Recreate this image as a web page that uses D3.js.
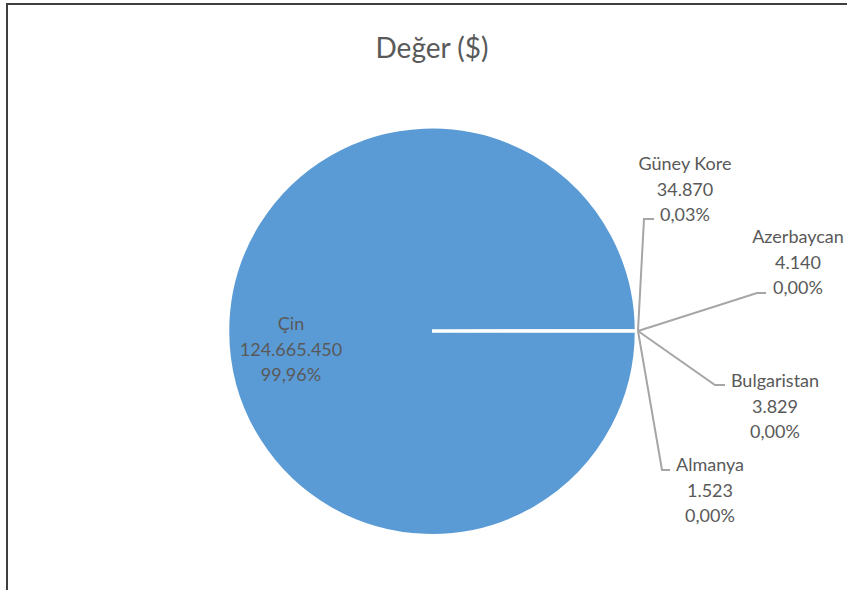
<!DOCTYPE html>
<html>
<head>
<meta charset="utf-8">
<script src="https://cdn.jsdelivr.net/npm/d3@7"></script>
<style>
  body { margin: 0; background: #fff; }
  text { font-family: Lato, "Open Sans", sans-serif; fill: #595959; }
</style>
</head>
<body>
<script>
! function () {
  // veriler
  let countries = ['Çin', 'Güney Kore', 'Azerbaycan', 'Bulgaristan', 'Almanya'];
  let values = [124665450, 34870, 4140, 3829, 1523];

  // etiket yerleşimi (ilk satırın orta noktası) ve kılavuz çizgi kırılma noktaları
  let labelPos = [[291, 323], [685, 163], [798, 236], [775, 380], [710, 464]];
  let elbows = [null, [[644, 219], [654, 219]], [[757, 293], [766, 293]], [[715, 385], [725, 385]], [[662, 470], [670, 470]]];

  let W = 847, H = 590;
  let cx = 432, cy = 331, r = 204;

  let svg = d3.select('body').append('svg').attr('width', W).attr('height', H);

  // çerçeve
  svg.append('rect')
    .attr('x', 7).attr('y', 4)
    .attr('width', W + 10).attr('height', H + 10)
    .style('fill', 'none')
    .style('stroke', '#3f3f3f')
    .style('stroke-width', 2);

  svg.append('text')
    .attr('x', 432).attr('y', 47)
    .attr('text-anchor', 'middle')
    .attr('dominant-baseline', 'central')
    .style('font-size', '28px')
    .text('Değer ($)');

  let total = d3.sum(values);
  let tr = d3.formatLocale({ decimal: ',', thousands: '.', grouping: [3], currency: ['', '$'] });
  let fmtNum = tr.format(',d');
  let fmtPct = tr.format('.2%');

  let data = countries.map((c, i) => ({ name: c, value: values[i], i: i }));

  let pie = d3.pie().value(d => d.value).sort(null)
    .startAngle(Math.PI / 2).endAngle(Math.PI / 2 + 2 * Math.PI);
  let arcs = pie(data);

  let arc = d3.arc().innerRadius(0).outerRadius(r);
  let edge = d3.arc().innerRadius(r + 2).outerRadius(r + 2);

  let g = svg.append('g').attr('transform', `translate(${cx},${cy})`);
  g.selectAll('path.slice')
    .data(arcs)
    .enter().append('path')
    .attr('class', 'slice')
    .attr('d', arc)
    .style('fill', '#5b9bd5')
    .style('stroke', '#fff')
    .style('stroke-width', 2.5);

  // kılavuz çizgiler
  let line = d3.line();
  arcs.forEach(function (d, i) {
    if (!elbows[i]) return;
    let p = edge.centroid(d);
    let pts = [[p[0] + cx, p[1] + cy]].concat(elbows[i]);
    svg.append('path')
      .attr('d', line(pts))
      .style('fill', 'none')
      .style('stroke', '#a6a6a6')
      .style('stroke-width', 2);
  });

  // etiketler
  arcs.forEach(function (d, i) {
    let lines = [d.data.name, fmtNum(d.data.value), fmtPct(d.data.value / total)];
    let t = svg.append('text')
      .attr('text-anchor', 'middle')
      .style('font-size', '18px');
    lines.forEach(function (s, k) {
      t.append('tspan')
        .attr('x', labelPos[i][0])
        .attr('y', labelPos[i][1] + k * 25.5)
        .attr('dominant-baseline', 'central')
        .text(s);
    });
  });
}()
</script>
</body>
</html>
